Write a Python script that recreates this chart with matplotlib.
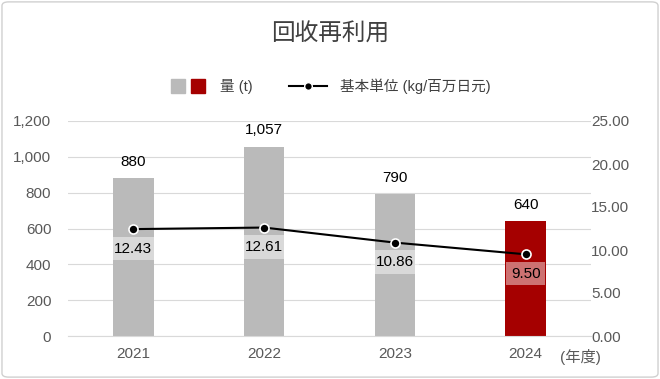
import matplotlib.pyplot as plt
from matplotlib.patches import FancyBboxPatch
from matplotlib.lines import Line2D
from matplotlib.legend_handler import HandlerTuple
from matplotlib.ticker import FuncFormatter

years = ['2021', '2022', '2023', '2024']
amount = [880, 1057, 790, 640]
unit = [12.43, 12.61, 10.86, 9.50]
bar_colors = ['#bababa', '#bababa', '#bababa', '#a50000']

plt.rcParams['font.family'] = ['Liberation Sans', 'Noto Sans CJK JP']


def main():
    fig = plt.figure(figsize=(6.6, 3.79), dpi=100)
    fig.patches.append(FancyBboxPatch((0.003, 0.005), 0.994, 0.99, boxstyle='round,pad=0,rounding_size=0.01',
                                      transform=fig.transFigure, fc='none', ec='#d0d0d0', lw=1, zorder=10))
    ax = fig.add_axes([68 / 660, 1 - 336 / 379, (591 - 68) / 660, (336 - 121) / 379])
    ax2 = ax.twinx()

    x = list(range(len(years)))
    ax.bar(x, amount, width=0.31, color=bar_colors, zorder=2)
    ax.set_ylim(0, 1200)
    ax.set_yticks(range(0, 1201, 200))
    ax.yaxis.set_major_formatter(FuncFormatter(lambda v, p: '{:,.0f}'.format(v)))
    ax.set_xlim(-0.5, 3.5)
    ax.set_xticks(x)
    ax.set_xticklabels(years)
    ax.grid(axis='y', color='#d9d9d9', lw=0.8, zorder=0)
    ax.set_axisbelow(True)
    for a in (ax, ax2):
        for s in a.spines.values():
            s.set_visible(False)
        a.tick_params(length=0, labelsize=11, colors='#595959')
    ax.spines['bottom'].set_visible(True)
    ax.spines['bottom'].set_color('#d9d9d9')
    ax.tick_params(axis='y', pad=12)
    ax.tick_params(axis='x', pad=8)
    ax2.tick_params(axis='y', pad=0)

    # bar value labels
    for i, v in enumerate(amount):
        ax.annotate('{:,}'.format(v), (i, v), xytext=(0, 7), textcoords='offset points',
                    ha='center', va='bottom', fontsize=11, color='black')

    ax2.plot(x, unit, color='black', lw=1.5, marker='o', ms=6.5, mfc='black', mec='white', mew=1.2, zorder=5)
    ax2.set_ylim(0, 25)
    ax2.set_yticks(range(0, 26, 5))
    ax2.yaxis.set_major_formatter(FuncFormatter(lambda v, p: '{:.2f}'.format(v)))
    for i, v in enumerate(unit):
        ax2.annotate('{:.2f}'.format(v), (i, v), xytext=(0, -14), textcoords='offset points',
                     ha='center', va='center', fontsize=11, color='black',
                     bbox=dict(boxstyle='square,pad=0.3', fc='white', ec='none', alpha=0.45))

    fig.text(580 / 660, 1 - 357 / 379, '(年度)', ha='center', va='center', fontsize=11, color='#595959')
    fig.text(0.5, 1 - 35 / 379, '回收再利用', ha='center', va='center', fontsize=17, color='#404040')

    sq = dict(marker='s', ms=10, ls='none')
    handles = [(Line2D([], [], color='#bababa', **sq), Line2D([], [], color='#a50000', **sq)),
               Line2D([], [], color='black', lw=1.5, marker='o', ms=5.5, mfc='black', mec='white')]
    fig.legend(handles, ['量 (t)', '基本単位 (kg/百万日元)'], loc='center', bbox_to_anchor=(0.5, 1 - 86 / 379),
               ncol=2, frameon=False, fontsize=10.5, handler_map={tuple: HandlerTuple(ndivide=None, pad=0.1)},
               handlelength=2.6, handletextpad=0.9, columnspacing=2.5, labelcolor='#404040')

    fig.savefig('out.png', dpi=100)


if __name__ == '__main__':
    main()
